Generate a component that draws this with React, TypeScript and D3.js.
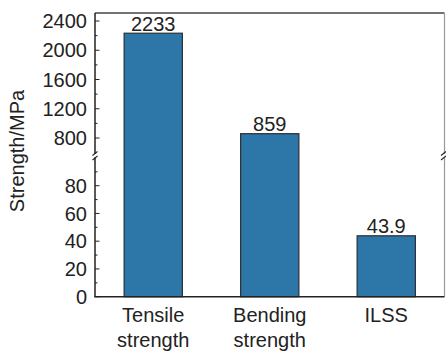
import React from "react";
import * as d3 from "d3";

const categories = ["Tensile strength", "Bending strength", "ILSS"];
const values = [2233, 859, 43.9];
const valueLabels = ["2233", "859", "43.9"];
const upperTicks = [800, 1200, 1600, 2000, 2400];
const upperMinor = [1000, 1400, 1800, 2200];
const lowerTicks = [0, 20, 40, 60, 80];
const lowerMinor = [10, 30, 50, 70, 90];

const W = 446;
const H = 351;
const left = 95;
const right = 444.5;
const top = 13;
const bottom = 296.7;
const breakTop = 154;
const breakBottom = 157.5;

const font = "'Liberation Sans', Arial, Helvetica, sans-serif";
const ink = "#222";
const barFill = "#2C76A8";
const barStroke = "#2b2f33";

export default function App() {
  const x = d3
    .scaleBand<string>()
    .domain(categories)
    .range([left, right])
    .paddingInner(0.5)
    .paddingOuter(0.25);
  const yUpper = d3.scaleLinear().domain([800, 2400]).range([138, 21]);
  const yLower = d3.scaleLinear().domain([0, 80]).range([bottom, 185.7]);
  const yOf = (v: number) => (v <= 100 ? yLower(v) : yUpper(v));

  const breakMark = (cx: number, cy: number, key: string) => (
    <line key={key} x1={cx - 2.5} y1={cy + 2} x2={cx + 2.5} y2={cy - 2} stroke={ink} strokeWidth={1.1} />
  );

  return (
    <svg width={W} height={H} style={{ position: "absolute", left: 0, top: 0, background: "#fff" }}>
      {/* bars */}
      {categories.map((c, i) => {
        const y0 = yLower(0);
        const y1 = yOf(values[i]);
        return (
          <g key={c}>
            <rect x={x(c)!} y={y1} width={x.bandwidth()} height={y0 - y1} fill={barFill} stroke={barStroke} strokeWidth={1.2} />
            <text x={x(c)! + x.bandwidth() / 2} y={y1 - 2.5} textAnchor="middle" fontFamily={font} fontSize={20} fill={ink}>
              {valueLabels[i]}
            </text>
          </g>
        );
      })}

      {/* frame: top and right */}
      <line x1={left} y1={top} x2={right} y2={top} stroke="#444" strokeWidth={1.5} />
      <line x1={right} y1={top} x2={right} y2={breakTop} stroke="#999" strokeWidth={1.2} />
      <line x1={right} y1={breakBottom} x2={right} y2={bottom} stroke="#999" strokeWidth={1.2} />
      {breakMark(right - 1, breakTop - 0.5, "rb1")}
      {breakMark(right - 1, breakBottom + 0.5, "rb2")}

      {/* left axis, upper segment */}
      <line x1={left} y1={top} x2={left} y2={breakTop} stroke={ink} strokeWidth={1.5} />
      {upperTicks.map((t) => (
        <g key={"u" + t}>
          <line x1={left} x2={left + 4.5} y1={yUpper(t)} y2={yUpper(t)} stroke={ink} strokeWidth={1} />
          <text x={left - 8} y={yUpper(t)} dy="0.36em" textAnchor="end" fontFamily={font} fontSize={20} fill={ink}>
            {t}
          </text>
        </g>
      ))}
      {upperMinor.map((t) => (
        <line key={"um" + t} x1={left} x2={left + 2.5} y1={yUpper(t)} y2={yUpper(t)} stroke={ink} strokeWidth={1} />
      ))}

      {/* left axis, lower segment */}
      <line x1={left} y1={breakBottom} x2={left} y2={bottom} stroke={ink} strokeWidth={1.5} />
      {lowerTicks.map((t) => (
        <g key={"l" + t}>
          <line x1={left} x2={left + 4.5} y1={yLower(t)} y2={yLower(t)} stroke={ink} strokeWidth={1} />
          <text x={left - 8} y={yLower(t)} dy="0.36em" textAnchor="end" fontFamily={font} fontSize={20} fill={ink}>
            {t}
          </text>
        </g>
      ))}
      {lowerMinor.map((t) => (
        <line key={"lm" + t} x1={left} x2={left + 2.5} y1={yLower(t)} y2={yLower(t)} stroke={ink} strokeWidth={1} />
      ))}
      {breakMark(left, breakTop - 0.5, "lb1")}
      {breakMark(left, breakBottom + 0.5, "lb2")}

      {/* bottom axis */}
      <line x1={left - 0.75} y1={bottom} x2={right} y2={bottom} stroke={ink} strokeWidth={1.5} />
      {categories.map((c) => {
        const words = c.split(" ");
        const cx = x(c)! + x.bandwidth() / 2;
        return (
          <text key={"xl" + c} x={cx} y={321.5} textAnchor="middle" fontFamily={font} fontSize={20} fill={ink}>
            {words.map((w, j) => (
              <tspan key={j} x={cx} dy={j === 0 ? 0 : 25}>
                {w}
              </tspan>
            ))}
          </text>
        );
      })}

      {/* y axis title */}
      <text
        transform={`translate(23.6, ${151}) rotate(-90)`}
        textAnchor="middle"
        fontFamily={font}
        fontSize={20}
        fill={ink}
      >
        Strength/MPa
      </text>
    </svg>
  );
}
